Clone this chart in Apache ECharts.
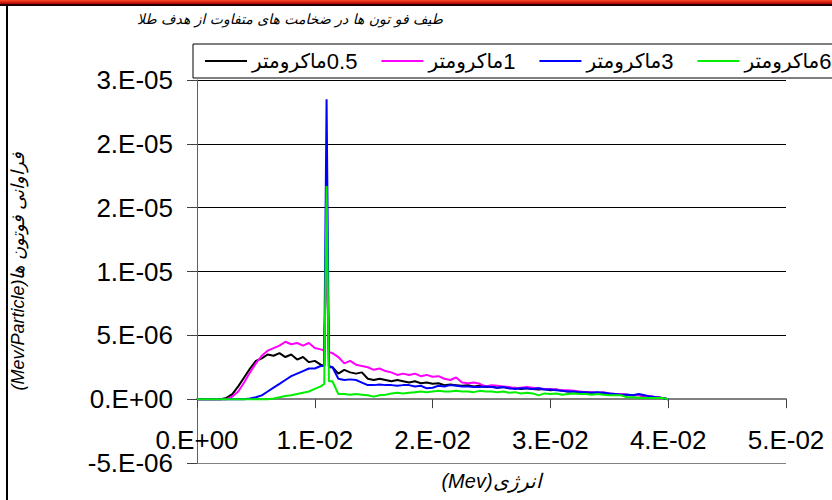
<!DOCTYPE html>
<html><head><meta charset="utf-8">
<script src="https://cdn.jsdelivr.net/npm/echarts@6/dist/echarts.min.js"></script>
<style>html,body{margin:0;padding:0;background:#fff}#c{width:832px;height:500px}</style>
</head><body><div id="c"></div>
<script>
// energy in units of 1e-2 MeV
const energy = [
  0,0.05,0.1,0.15,0.2,0.25,0.3,0.35,0.4,0.45,0.5,0.55,0.6,0.65,0.7,0.75,0.8,0.85,0.9,0.95,
  1,1.05,1.08,1.1,1.12,
  1.15,1.2,1.25,1.3,1.35,1.4,1.45,1.5,1.55,1.6,1.65,1.7,1.75,1.8,1.85,1.9,1.95,
  2,2.05,2.1,2.15,2.2,2.25,2.3,2.35,2.4,2.45,2.5,2.55,2.6,2.65,2.7,2.75,2.8,2.85,2.9,2.95,
  3,3.05,3.1,3.15,3.2,3.25,3.3,3.35,3.4,3.45,3.5,3.55,3.6,3.65,3.7,3.75,3.8,3.85,3.9,3.95,4
];
// values in units of 1e-6 MeV/particle
const s05 = [
  0,0,0,0,0,0.1,0.4,1.0,1.7,2.4,3.0,3.2,3.5,3.4,3.6,3.3,3.5,3.1,3.3,2.9,
  3.0,2.7,2.6,14,2.5,
  2.5,2.0,2.3,2.1,2.0,2.1,1.6,1.5,1.6,1.5,1.4,1.5,1.4,1.3,1.4,1.25,1.3,
  1.2,1.25,1.1,1.15,1.1,1.05,1.1,1.0,1.05,0.95,1.0,0.9,0.95,0.85,0.9,0.8,0.85,0.8,0.75,0.8,
  0.7,0.75,0.65,0.6,0.6,0.55,0.55,0.5,0.5,0.45,0.4,0.4,0.35,0.35,0.3,0.3,0.25,0.2,0.15,0.1,0
];
const s1 = [
  0,0,0,0,0,0,0.2,0.6,1.3,2.1,2.8,3.4,3.8,4.0,4.2,4.5,4.3,4.4,4.2,4.4,
  4.0,3.9,3.8,12,3.7,
  3.6,3.3,2.8,3.0,2.7,2.6,2.5,2.3,2.4,2.2,2.1,1.9,2.0,1.9,2.0,1.8,1.9,
  1.75,1.8,1.6,1.5,1.7,1.3,1.25,1.3,1.2,1.0,1.1,1.05,1.0,0.95,0.85,0.9,0.95,0.9,0.85,0.8,
  0.8,0.75,0.7,0.7,0.65,0.6,0.55,0.55,0.5,0.55,0.45,0.4,0.4,0.35,0.3,0.35,0.25,0.2,0.15,0.1,0
];
const s3 = [
  0,0,0,0,0,0,0,0,0,0.05,0.15,0.3,0.6,0.9,1.2,1.5,1.8,2.0,2.2,2.4,
  2.4,2.6,2.6,23.5,2.6,
  2.5,1.6,1.5,1.55,1.5,1.3,1.1,1.1,1.15,1.1,1.1,1.05,1.1,1.1,1.0,1.05,0.85,
  0.9,1.05,1.0,1.1,1.05,1.0,1.0,0.95,0.95,1.0,0.95,0.9,0.95,0.85,0.8,0.85,0.85,0.8,0.85,0.75,
  0.75,0.7,0.65,0.6,0.6,0.55,0.55,0.5,0.55,0.5,0.45,0.4,0.35,0.35,0.3,0.4,0.3,0.2,0.15,0.1,0
];
const s6 = [
  0,0,0,0,0,0,0,0,0,0,0,0,0,0.05,0.15,0.25,0.3,0.4,0.5,0.6,
  0.8,1.0,1.2,16.7,1.4,
  1.4,0.4,0.4,0.35,0.4,0.35,0.3,0.2,0.3,0.35,0.45,0.5,0.45,0.5,0.55,0.6,0.55,
  0.6,0.65,0.6,0.6,0.65,0.6,0.6,0.55,0.65,0.6,0.6,0.55,0.6,0.5,0.55,0.45,0.5,0.45,0.3,0.45,
  0.4,0.45,0.35,0.4,0.45,0.4,0.4,0.35,0.4,0.35,0.3,0.3,0.3,0.15,0.15,0.1,0.1,0.1,0.1,0.1,0
];
const thick = ['0.5','1','3','6'];
const unit = 'ماکرومتر';
const xTickLabels = ['0.E+00','1.E-02','2.E-02','3.E-02','4.E-02','5.E-02'];
const yTickLabels = ['-5.E-06','0.E+00','5.E-06','1.E-05','2.E-05','2.E-05','3.E-05'];
const titleText = 'طیف فو تون ها در ضخامت های متفاوت از هدف طلا';
const xName = '(Mev)انرژی';
const yName = '(Mev/Particle)فراوانی فوتون ها';

const colors = ['#000000','#ff00ff','#0000ff','#00ee00'];
const seriesVals = [s05, s1, s3, s6];
const names = thick.map(t => t + unit);

const chart = echarts.init(document.getElementById('c'), null, {renderer:'svg'});
const numFont = "Liberation Sans";
const faFont = "DejaVu Sans";

chart.setOption({
  animation: false,
  backgroundColor: '#fff',
  grid: {left: 197, right: 46, top: 80, bottom: 37, containLabel: false, outerBoundsMode: 'none'},
  xAxis: {
    type: 'value', min: 0, max: 5, interval: 1,
    axisLine: {onZero: true, lineStyle: {color: '#808080', width: 2}},
    axisTick: {show: true, length: 9, lineStyle: {color: '#404040', width: 1}},
    axisLabel: {margin: -36, fontSize: 26, fontFamily: numFont, fontWeight: 'normal', color: '#000',
      formatter: v => xTickLabels[Math.round(v)]},
    splitLine: {show: false},
    name: xName, nameLocation: 'middle', nameGap: 8,
    nameTextStyle: {fontSize: 20, fontStyle: 'italic', fontWeight: 'normal', fontFamily: numFont, color: '#000'}
  },
  yAxis: {
    type: 'value', min: -5, max: 25, interval: 5,
    axisLine: {show: true, lineStyle: {color: '#606060', width: 1}},
    axisTick: {show: true, length: 10, lineStyle: {color: '#404040'}},
    axisLabel: {margin: 24, fontSize: 26, fontFamily: numFont, fontWeight: 'normal', color: '#000',
      formatter: v => yTickLabels[Math.round((v + 5) / 5)]},
    splitLine: {show: true, lineStyle: {color: ['#808080','#000','#000','#000','#000','#000','#000'], width: 1}},
    name: yName, nameLocation: 'middle', nameGap: 170,
    nameTextStyle: {fontSize: 18, fontStyle: 'italic', fontWeight: 'normal', fontFamily: numFont, color: '#000'}
  },
  legend: {
    left: 193, top: 44, width: 900, orient: 'horizontal', icon: 'rect', itemWidth: 42, itemHeight: 2, itemGap: 24,
    padding: [6, 100, 6, 12], borderColor: '#000', borderWidth: 1, backgroundColor: '#fff',
    data: names, z: 10,
    formatter: n => '{w|' + unit + '}{n|' + thick[names.indexOf(n)] + '}',
    textStyle: {color: '#000', fontWeight: 'normal', rich: {
      w: {fontFamily: faFont, fontSize: 20, fontWeight: 'normal', color: '#000'},
      n: {fontFamily: numFont, fontSize: 22, fontWeight: 'normal', color: '#000'}
    }}
  },
  graphic: [
    {type: 'rect', z: 1, shape: {x: 0, y: 0, width: 832, height: 4},
      style: {fill: new echarts.graphic.LinearGradient(0, 0, 0, 1, [{offset: 0, color: '#ff4a2a'}, {offset: 1, color: '#b00000'}])}},
    {type: 'rect', z: 1, shape: {x: 0, y: 4, width: 832, height: 2}, style: {fill: '#200000'}},
    {type: 'rect', z: 1, shape: {x: 6, y: 4, width: 2, height: 496}, style: {fill: '#000'}},
    {type: 'text', z: 1, style: {text: titleText, x: 290, y: 19, align: 'center', verticalAlign: 'middle',
      fontSize: 14, fontStyle: 'italic', fontWeight: 'normal', fontFamily: faFont, fill: '#000'}}
  ],
  series: seriesVals.map((vals, i) => ({
    name: names[i], type: 'line', symbol: 'none', z: 3 + i,
    lineStyle: {color: colors[i], width: 2}, itemStyle: {color: colors[i]},
    data: energy.map((e, j) => [e, vals[j]])
  }))
});
</script></body></html>
